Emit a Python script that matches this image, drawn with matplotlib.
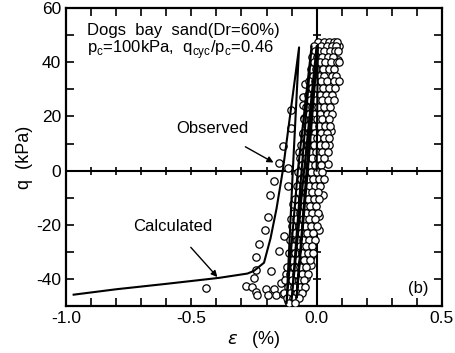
import numpy as np
import matplotlib
matplotlib.use("Agg")
import matplotlib.pyplot as plt

plt.rcParams['font.family'] = ['Liberation Sans', 'DejaVu Sans']
plt.rcParams['mathtext.fontset'] = 'custom'
plt.rcParams['mathtext.rm'] = 'Liberation Sans'
plt.rcParams['axes.unicode_minus'] = False

# calculated stress-strain path (strain %, q kPa)
calc_eps = [0.0, 0.005, -0.035, -0.08, -0.04, 0.0, -0.05, -0.1, -0.06, -0.02,
            -0.075, -0.12, -0.095, -0.07, -0.135, -0.16, -0.184, -0.21, -0.25,
            -0.276, -0.39, -0.6, -0.8, -0.97]
calc_q = [0, 46, 0, -47, 0, 46, 0, -48, 0, 46,
          0, -49, 0, 45.5, 0, -14, -25, -34, -37,
          -38, -39.6, -41.8, -43.8, -45.8]

# observed: scattered points outside the main band
obs_eps = [-0.152, -0.136, -0.104, -0.104, -0.056, -0.048, -0.056, -0.052, -0.116,
           -0.072, -0.056, -0.172, -0.188, -0.116, -0.196, -0.208, -0.232, -0.24,
           -0.24, -0.248, -0.28, -0.256, -0.24, -0.236, -0.44, -0.096, -0.104,
           -0.132, -0.152, -0.184, -0.204, -0.196, -0.172, -0.164, -0.144, -0.136,
           -0.116, -0.124, 0.088, 0.076, 0.084, 0.084, 0.056, 0.056, 0.048, 0.044,
           0.024, 0.024, 0.008, 0.008, -0.024, -0.024, -0.044, -0.056]
obs_q = [3, 9, 15.6, 22.5, 27, 32, 24.4, 19.6, 1,
         6.7, 13.7, -3.7, -8.9, -5.6, -17, -22, -27, -32,
         -36.7, -39.6, -42.6, -43, -44.7, -46, -43.4, -12.3, -18,
         -24, -29.6, -37, -43.7, -46, -43.7, -46, -41.4, -45.6,
         -48, -38, 46, 47, 40.7, 33, 27, 14.8, 9.3, 2.6,
         -3, -9, -16.7, -22, -31.5, -35, -39.6, -43.7]

# observed: dense band of cyclic loops, read row by row
band_q = [47.5, 46, 44, 42, 40, 37.5, 35, 33, 30.5, 28, 26, 23.5, 21, 19, 16.5,
          14, 12, 9.5, 7, 4.5, 2, -0.5, -3, -5.5, -8, -10.5, -13, -15.5, -18,
          -20.5, -23, -25.5, -28, -30.5, -33, -35.5, -38, -40.5, -43, -45, -47, -49]
band_eps = [
    [0.005, 0.03, 0.05, 0.07, 0.083],
    [-0.012, 0.018, 0.04, 0.062, 0.078],
    [-0.005, 0.01, 0.028, 0.055, 0.072, 0.086],
    [-0.018, 0.003, 0.022, 0.045, 0.066],
    [-0.01, 0.012, 0.035, 0.058, 0.08, 0.088],
    [-0.022, -0.002, 0.025, 0.048, 0.07],
    [-0.015, 0.008, 0.03, 0.06, 0.076],
    [-0.03, -0.008, 0.018, 0.042, 0.068, 0.088],
    [-0.02, 0.0, 0.027, 0.05, 0.072],
    [-0.035, -0.012, 0.012, 0.038, 0.06],
    [-0.026, -0.004, 0.02, 0.045, 0.07],
    [-0.042, -0.018, 0.006, 0.03, 0.055],
    [-0.032, -0.01, 0.015, 0.04, 0.062],
    [-0.05, -0.024, 0.0, 0.022, 0.048],
    [-0.04, -0.015, 0.008, 0.032, 0.055],
    [-0.056, -0.03, -0.006, 0.018, 0.042],
    [-0.046, -0.02, 0.002, 0.028, 0.05],
    [-0.062, -0.036, -0.012, 0.012, 0.035],
    [-0.052, -0.026, -0.004, 0.02, 0.045],
    [-0.068, -0.042, -0.018, 0.006, 0.03],
    [-0.058, -0.032, -0.008, 0.016],
    [-0.075, -0.048, -0.024, 0.0, 0.02],
    [-0.064, -0.038, -0.014, 0.01, 0.028],
    [-0.08, -0.054, -0.03, -0.006, 0.015],
    [-0.07, -0.044, -0.02, 0.004],
    [-0.086, -0.06, -0.036, -0.012, 0.01],
    [-0.076, -0.05, -0.026, -0.002],
    [-0.092, -0.066, -0.042, -0.018, 0.004],
    [-0.082, -0.056, -0.032, -0.008],
    [-0.098, -0.072, -0.048, -0.024, 0.0],
    [-0.088, -0.062, -0.038, -0.014],
    [-0.105, -0.078, -0.054, -0.03, -0.008],
    [-0.095, -0.068, -0.044, -0.02],
    [-0.112, -0.085, -0.06, -0.036, -0.015],
    [-0.1, -0.074, -0.05, -0.028],
    [-0.118, -0.092, -0.066, -0.042],
    [-0.108, -0.082, -0.058, -0.036],
    [-0.125, -0.098, -0.072, -0.05],
    [-0.115, -0.09, -0.066, -0.048],
    [-0.13, -0.105, -0.08, -0.06],
    [-0.118, -0.095, -0.072],
    [-0.11, -0.088],
]

fig = plt.figure(figsize=(4.56, 3.53), dpi=100)
ax = fig.add_axes([0.145, 0.133, 0.824, 0.844])

mk = dict(marker='o', ms=5.3, mfc='white', mec='black', mew=0.9, ls='none', zorder=3)
ax.plot(obs_eps, obs_q, **mk)
for q, row in zip(band_q, band_eps):
    ax.plot(row, [q] * len(row), **mk)

# calculated loops drawn over the circles, as in the original
ax.plot(calc_eps, calc_q, color='black', lw=1.5, zorder=4)

# cross lines through origin with their own tick marks
ax.axhline(0, color='black', lw=1.5, zorder=1)
ax.axvline(0, color='black', lw=1.5, zorder=1)
xt = np.arange(-0.9, 0.5, 0.1)
yt = np.arange(-40, 60, 10)
ax.plot(xt, np.zeros_like(xt), ls='none', marker='|', ms=6, mew=1.2, color='black', zorder=1)
ax.plot(np.zeros_like(yt), yt, ls='none', marker='_', ms=6, mew=1.2, color='black', zorder=1)

ax.set_xlim(-1.0, 0.5)
ax.set_ylim(-50, 60)
ax.set_xticks([-1.0, -0.5, 0.0, 0.5])
ax.set_xticklabels(['-1.0', '-0.5', '0.0', '0.5'])
ax.set_xticks(np.arange(-1.0, 0.51, 0.1), minor=True)
ax.set_yticks([-40, -20, 0, 20, 40, 60])
ax.set_yticks(np.arange(-50, 61, 10), minor=True)
ax.tick_params(which='both', direction='in', top=True, right=True, width=1.2,
               labelsize=12.5, length=6)
for s in ax.spines.values():
    s.set_linewidth(1.6)

ax.set_ylabel('q  (kPa)', fontsize=13, labelpad=2)
ax.set_xlabel(r'$\varepsilon$   (%)', fontsize=13, labelpad=2)

ax.text(-0.916, 51.9, 'Dogs  bay  sand(Dr=60%)', fontsize=12, va='center')
ax.text(-0.916, 44.8, r'p$_\mathregular{c}$=100kPa,  q$_\mathregular{cyc}$/p$_\mathregular{c}$=0.46',
        fontsize=12, va='center')
ax.annotate('Observed', xy=(-0.172, 3), xytext=(-0.416, 15.6), fontsize=12,
            ha='center', va='center',
            arrowprops=dict(arrowstyle='-|>', color='black', lw=1, shrinkA=12,
                            shrinkB=0, mutation_scale=9))
ax.annotate('Calculated', xy=(-0.396, -39.3), xytext=(-0.576, -20.7), fontsize=12,
            ha='center', va='center',
            arrowprops=dict(arrowstyle='-|>', color='black', lw=1, shrinkA=10,
                            shrinkB=0, mutation_scale=9))
ax.text(0.404, -43.7, '(b)', fontsize=12, ha='center', va='center')

fig.savefig('out.png', dpi=100)
